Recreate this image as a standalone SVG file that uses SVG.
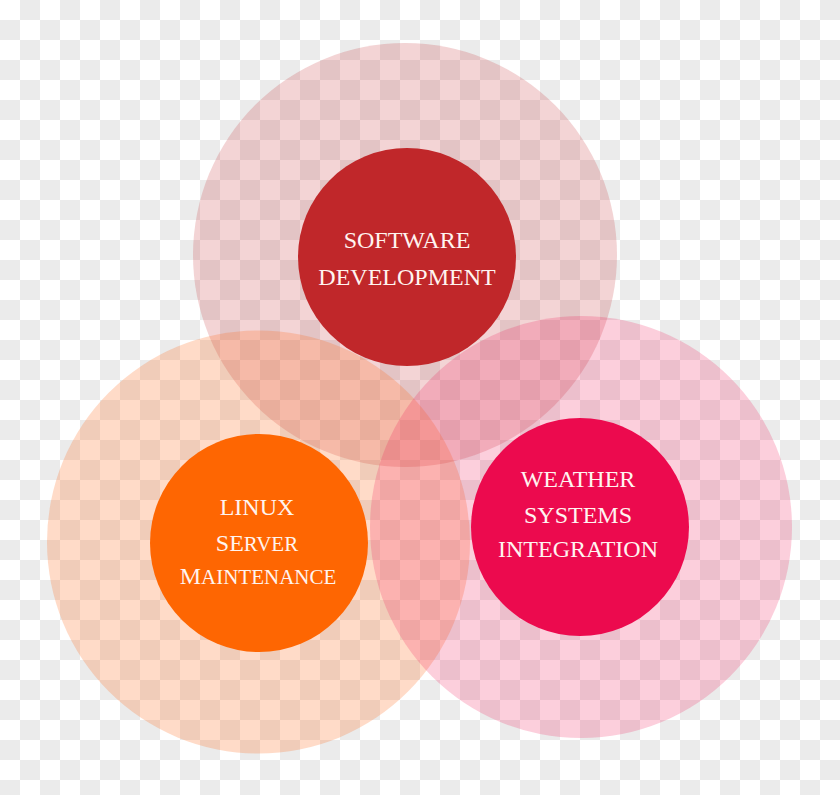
<svg xmlns="http://www.w3.org/2000/svg" width="840" height="795" viewBox="0 0 840 795">
<defs>
<pattern id="checker" x="0" y="0" width="40" height="40" patternUnits="userSpaceOnUse">
<rect width="40" height="40" fill="#ffffff"/>
<rect x="20" y="0" width="20" height="20" fill="#ebebeb"/>
<rect x="0" y="20" width="20" height="20" fill="#ebebeb"/>
</pattern>
</defs>
<style>
.lbl{font-family:"Liberation Serif","Times New Roman",serif;font-size:24px;fill:#fff4f0;text-anchor:middle}
.sc{font-size:30px;font-variant:small-caps}
</style>
<rect width="840" height="795" fill="url(#checker)"/>
<g id="halos">
<circle id="halo-software" cx="405" cy="255" r="212" fill="#c1272d" fill-opacity="0.2"/>
<circle id="halo-linux" cx="258.5" cy="542" r="211.5" fill="#ff6a1a" fill-opacity="0.24"/>
<circle id="halo-weather" cx="581" cy="527" r="211" fill="#ee1050" fill-opacity="0.2"/>
</g>
<g id="connectors"></g>
<g id="node-software">
<circle cx="407" cy="257" r="109" fill="#c0272a"/>
<text class="lbl" x="407" y="248">SOFTWARE</text>
<text class="lbl" x="407" y="285">DEVELOPMENT</text>
</g>
<g id="node-linux">
<circle cx="259" cy="543" r="109" fill="#fe6602"/>
<text class="lbl" x="257" y="515">LINUX</text>
<text class="lbl" x="257" y="551">SE<tspan class="sc">rver</tspan></text>
<text class="lbl" x="258" y="584">M<tspan class="sc">aintenance</tspan></text>
</g>
<g id="node-weather">
<circle cx="580" cy="527" r="109" fill="#ec0a4e"/>
<text class="lbl" x="578" y="487">WEATHER</text>
<text class="lbl" x="578" y="523">SYSTEMS</text>
<text class="lbl" x="578" y="557">INTEGRATION</text>
</g>
</svg>
